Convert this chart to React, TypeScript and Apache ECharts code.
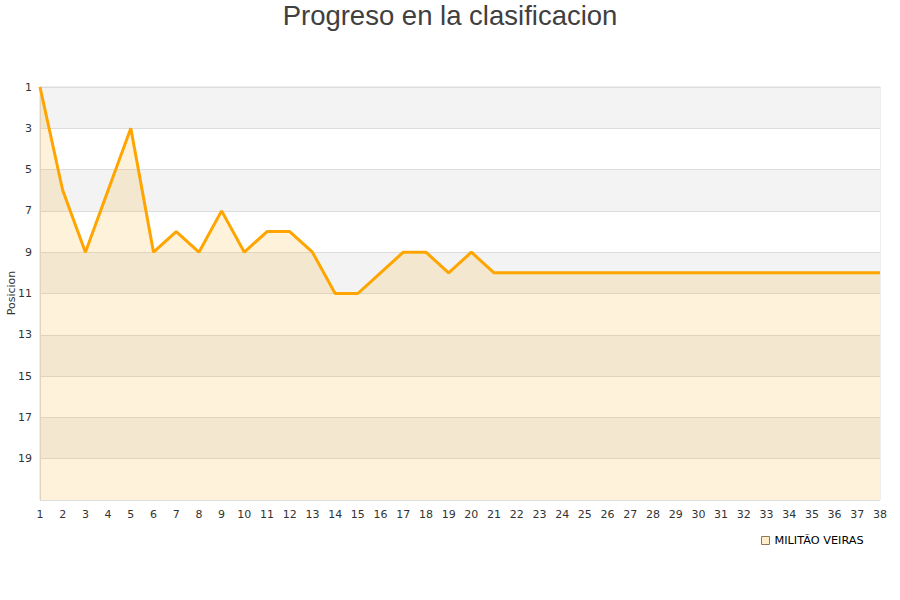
import React, { useEffect, useRef } from "react";
import * as echarts from "echarts";

const jornadas: string[] = Array.from({ length: 38 }, (_, i) => String(i + 1));
const posiciones: number[] = [
  1, 6, 9, 6, 3, 9, 8, 9, 7, 9, 8, 8, 9, 11, 11, 10, 9, 9, 10, 9, 10,
  10, 10, 10, 10, 10, 10, 10, 10, 10, 10, 10, 10, 10, 10, 10, 10, 10,
];
const teamName = "MILITÃO VEIRAS";
const titleText = "Progreso en la clasificacion";
const yName = "Posicion";

export default function App() {
  const ref = useRef<HTMLDivElement>(null);
  useEffect(() => {
    document.body.style.margin = "0";
    const chart = echarts.init(ref.current!, null, { renderer: "svg" });
    chart.setOption({
      animation: false,
      backgroundColor: "#ffffff",
      title: {
        text: titleText,
        left: "center",
        top: -4,
        textStyle: {
          fontFamily: "Liberation Sans",
          fontSize: 27.5,
          fontWeight: "normal",
          color: "#404040",
        },
      },
      graphic: [
        {
          type: "text",
          x: 11,
          y: 293,
          rotation: Math.PI / 2,
          style: {
            text: yName,
            fontFamily: "DejaVu Sans",
            fontSize: 11,
            fill: "#333",
            align: "center",
            verticalAlign: "middle",
          },
        },
      ],
      legend: {
        data: [teamName],
        left: 756,
        top: 530,
        icon: "rect",
        itemWidth: 8,
        itemHeight: 8,
        itemGap: 6,
        textStyle: {
          fontFamily: "DejaVu Sans",
          fontSize: 11.3,
          color: "#000",
        },
        itemStyle: {
          color: "rgba(255,165,0,0.2)",
          borderColor: "#8a7a5a",
          borderWidth: 1,
        },
      },
      grid: {
        left: 40,
        right: 20,
        top: 87,
        bottom: 100,
        show: true,
        borderColor: "#dddddd",
        borderWidth: 1,
        backgroundColor: "transparent",
        outerBoundsMode: "none",
        containLabel: false,
      },
      xAxis: {
        type: "category",
        data: jornadas,
        boundaryGap: false,
        axisLine: { show: true, lineStyle: { color: "#dddddd" } },
        axisTick: { show: false },
        axisLabel: {
          interval: 0,
          color: "#333",
          fontFamily: "DejaVu Sans",
          fontSize: 11,
          margin: 9,
        },
        splitLine: { show: false },
      },
      yAxis: [
        {
          type: "value",
          inverse: true,
          min: 0,
          max: 20,
          interval: 2,
          axisLine: { show: true, lineStyle: { color: "#dddddd" } },
          axisTick: { show: false },
          axisLabel: {
            color: "#333",
            fontFamily: "DejaVu Sans",
            fontSize: 11,
            margin: 8,
            formatter: (v: number) => (v >= 20 ? "" : String(v + 1)),
          },
          splitLine: { show: true, lineStyle: { color: "#dddddd" } },
          splitArea: {
            show: true,
            areaStyle: { color: ["#f3f3f3", "#ffffff"] },
          },
        },
        {
          type: "value",
          inverse: true,
          min: 1,
          max: 21,
          show: false,
        },
      ],
      series: [
        {
          name: teamName,
          type: "line",
          yAxisIndex: 1,
          data: posiciones,
          symbol: "none",
          lineStyle: { color: "#ffa500", width: 3 },
          itemStyle: { color: "rgba(255,165,0,0.2)" },
          areaStyle: { color: "rgba(255,165,0,0.2)", origin: "end" },
        },
      ],
    });
    return () => chart.dispose();
  }, []);
  return <div ref={ref} style={{ width: 900, height: 600 }} />;
}
